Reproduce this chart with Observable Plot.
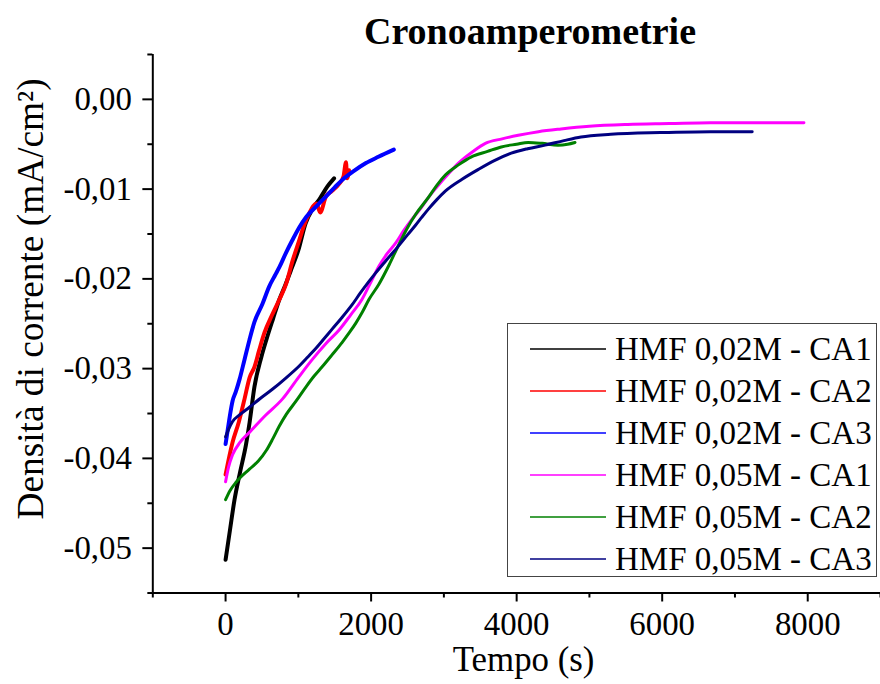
<!DOCTYPE html>
<html>
<head>
<meta charset="utf-8">
<script src="https://cdn.jsdelivr.net/npm/d3@7"></script>
<script src="https://cdn.jsdelivr.net/npm/@observablehq/plot@0.6"></script>
<style>
  html, body { margin: 0; padding: 0; background: #fff; overflow: hidden; }
  #wrap { position: relative; width: 880px; height: 684px; overflow: hidden; font-family: "Liberation Serif", "Times New Roman", serif; color: #000; }
  #title { position: relative; height: 50px; }
  #title span { position: absolute; left: 530px; top: 12px; transform: translateX(-50%); font-weight: bold; font-size: 38px; line-height: 38px; white-space: nowrap; }
  #legend { position: absolute; left: 507px; top: 323px; width: 370px; height: 254px; box-sizing: border-box; border: 1.5px solid #444; background: #fff; padding-top: 4px; }
  .row { height: 42px; display: flex; align-items: center; font-size: 33px; white-space: nowrap; }
  .row svg { margin-left: 22px; margin-right: 9px; flex: none; }
  svg { display: block; }
</style>
</head>
<body>
<div id="wrap">
  <div id="title"><span>Cronoamperometrie</span></div>
  <div id="chart"></div>
  <div id="legend"></div>
</div>
<script>
// Series names and colours
const seriesNames = ["HMF 0,02M - CA1", "HMF 0,02M - CA2", "HMF 0,02M - CA3", "HMF 0,05M - CA1", "HMF 0,05M - CA2", "HMF 0,05M - CA3"];
const seriesColors = ["#000000", "#ff0000", "#0000ff", "#ff00ff", "#008000", "#000080"];

// Tick values
const xMajorTicks = [0, 2000, 4000, 6000, 8000];
const xMinorTicks = [-1000, 1000, 3000, 5000, 7000, 9000];
const yMajorTicks = [0, -0.01, -0.02, -0.03, -0.04, -0.05];
const yMinorTicks = [0.005, -0.005, -0.015, -0.025, -0.035, -0.045, -0.055];

// [time (s), current density (mA/cm2)]
const hmf002_ca1 = [[0,-0.0513],[60,-0.048],[123,-0.0446],[200,-0.0415],[280,-0.0385],[330,-0.036],[397,-0.032],[492,-0.0287],[560,-0.0268],[650,-0.0245],[739,-0.0223],[820,-0.0207],[900,-0.019],[1000,-0.0168],[1100,-0.0138],[1190,-0.0123],[1300,-0.011],[1400,-0.0097],[1491,-0.0088]];
const hmf002_ca2 = [[0,-0.0418],[96,-0.0382],[180,-0.036],[260,-0.0334],[330,-0.031],[397,-0.0298],[460,-0.028],[534,-0.026],[640,-0.024],[739,-0.0223],[834,-0.0205],[920,-0.018],[1012,-0.0157],[1080,-0.014],[1149,-0.0127],[1250,-0.0116],[1300,-0.0126],[1380,-0.0108],[1464,-0.0102],[1560,-0.0094],[1620,-0.0086],[1655,-0.007],[1670,-0.0088],[1696,-0.0079]];
const hmf002_ca3 = [[0,-0.0384],[30,-0.0368],[60,-0.0352],[96,-0.0336],[140,-0.0326],[192,-0.0312],[260,-0.029],[328,-0.0268],[397,-0.0248],[506,-0.0228],[602,-0.0208],[680,-0.0196],[739,-0.0187],[830,-0.0171],[917,-0.0157],[1010,-0.0143],[1108,-0.0131],[1250,-0.0119],[1382,-0.0108],[1500,-0.0098],[1600,-0.009],[1760,-0.008],[1929,-0.0071],[2100,-0.0064],[2312,-0.0056]];
const hmf005_ca1 = [[0,-0.0426],[40,-0.041],[96,-0.0396],[200,-0.0382],[328,-0.0371],[550,-0.0352],[780,-0.0334],[1000,-0.031],[1190,-0.029],[1380,-0.0272],[1560,-0.0257],[1720,-0.024],[1874,-0.0223],[2000,-0.0203],[2107,-0.0186],[2220,-0.0172],[2339,-0.016],[2450,-0.0146],[2558,-0.0134],[2695,-0.012],[2800,-0.0108],[2900,-0.0098],[3050,-0.0084],[3201,-0.0071],[3400,-0.0058],[3570,-0.0049],[3800,-0.0044],[4022,-0.004],[4300,-0.0036],[4610,-0.0033],[5000,-0.003],[5527,-0.0028],[6100,-0.0027],[6662,-0.0026],[7300,-0.0026],[7948,-0.0026]];
const hmf005_ca2 = [[0,-0.0446],[60,-0.0436],[150,-0.0426],[328,-0.0412],[450,-0.0403],[561,-0.0391],[650,-0.0378],[739,-0.0364],[834,-0.0351],[970,-0.0336],[1108,-0.032],[1220,-0.0308],[1327,-0.0298],[1460,-0.0285],[1600,-0.0271],[1700,-0.026],[1792,-0.0249],[1880,-0.0237],[1970,-0.0223],[2107,-0.0206],[2250,-0.0184],[2380,-0.0162],[2500,-0.0143],[2613,-0.0128],[2790,-0.0109],[2900,-0.0096],[3023,-0.0084],[3200,-0.0073],[3379,-0.0064],[3600,-0.0058],[3789,-0.0053],[4000,-0.005],[4158,-0.0048],[4350,-0.0049],[4569,-0.0051],[4700,-0.005],[4802,-0.0048]];
const hmf005_ca3 = [[0,-0.0376],[40,-0.0368],[96,-0.0359],[200,-0.0351],[328,-0.0343],[480,-0.0333],[643,-0.0323],[820,-0.0311],[1012,-0.0297],[1130,-0.0287],[1245,-0.0277],[1350,-0.0267],[1464,-0.0256],[1600,-0.0243],[1737,-0.0229],[1850,-0.0216],[1960,-0.0204],[2066,-0.0193],[2200,-0.018],[2380,-0.0163],[2500,-0.0151],[2613,-0.014],[2700,-0.0131],[2790,-0.0122],[2900,-0.0112],[3023,-0.0102],[3250,-0.0089],[3475,-0.0078],[3700,-0.0068],[3926,-0.006],[4150,-0.0055],[4391,-0.0051],[4650,-0.0046],[4884,-0.0042],[5294,-0.0039],[5978,-0.0037],[6662,-0.0036],[7237,-0.0036]];

const seriesData = [hmf002_ca1, hmf002_ca2, hmf002_ca3, hmf005_ca1, hmf005_ca2, hmf005_ca3];
const widths = [4, 4, 4, 3, 3, 3];

const rows = seriesData.flatMap((pts, i) => pts.map(([t, j]) => ({t, j, series: seriesNames[i]})));

const fmtY = d => d3.format(".2f")(d).replace("\u2212", "-").replace(".", ",");

const chart = Plot.plot({
  width: 884,
  height: 634,
  marginLeft: 153,
  marginRight: 0,
  marginTop: 4,
  marginBottom: 89,
  style: {fontFamily: "'Liberation Serif', 'Times New Roman', serif", fontSize: "33px", color: "#000", background: "#fff", overflow: "visible"},
  x: {domain: [-1000, 9000]},
  y: {domain: [-0.055, 0.005]},
  color: {domain: seriesNames, range: seriesColors},
  marks: [
    ...seriesNames.map((name, i) => Plot.line(rows.filter(r => r.series === name), {x: "t", y: "j", stroke: "series", strokeWidth: widths[i], strokeLinejoin: "round", strokeLinecap: "round", curve: "monotone-x"})),
    Plot.ruleX([-1000], {stroke: "#000", strokeWidth: 2}),
    Plot.ruleY([-0.055], {stroke: "#000", strokeWidth: 2}),
    Plot.axisX({ticks: xMajorTicks, tickSize: 9, tickPadding: 10, tickFormat: d => String(d), strokeWidth: 2, label: null, fontSize: 33}),
    Plot.axisX({ticks: xMinorTicks, tickSize: 5, tickFormat: () => "", strokeWidth: 2, label: null}),
    Plot.axisY({ticks: yMajorTicks, tickSize: 10, tickPadding: 11, tickFormat: fmtY, strokeWidth: 2, label: null, fontSize: 33}),
    Plot.axisY({ticks: yMinorTicks, tickSize: 5, tickFormat: () => "", strokeWidth: 2, label: null}),
    Plot.text(["Densit\u00e0 di corrente (mA/cm\u00b2)"], {frameAnchor: "left", text: d => d, rotate: -90, dx: -110, dy: -25, lineAnchor: "bottom", textAnchor: "middle", fontSize: 37.5}),
    Plot.text(["Tempo (s)"], {frameAnchor: "bottom", text: d => d, dx: 7, dy: 78, lineAnchor: "bottom", textAnchor: "middle", fontSize: 35})
  ]
});
document.getElementById("chart").appendChild(chart);

const legend = document.getElementById("legend");
const ns = "http://www.w3.org/2000/svg";
seriesNames.forEach((name, i) => {
  const row = document.createElement("div");
  row.className = "row";
  const sw = document.createElementNS(ns, "svg");
  sw.setAttribute("width", "76");
  sw.setAttribute("height", "4");
  const ln = document.createElementNS(ns, "line");
  ln.setAttribute("x1", "0"); ln.setAttribute("x2", "76");
  ln.setAttribute("y1", "2"); ln.setAttribute("y2", "2");
  ln.setAttribute("stroke", seriesColors[i]);
  ln.setAttribute("stroke-width", "1.5");
  sw.appendChild(ln);
  const lab = document.createElement("span");
  lab.textContent = name;
  row.appendChild(sw);
  row.appendChild(lab);
  legend.appendChild(row);
});
</script>
</body>
</html>
